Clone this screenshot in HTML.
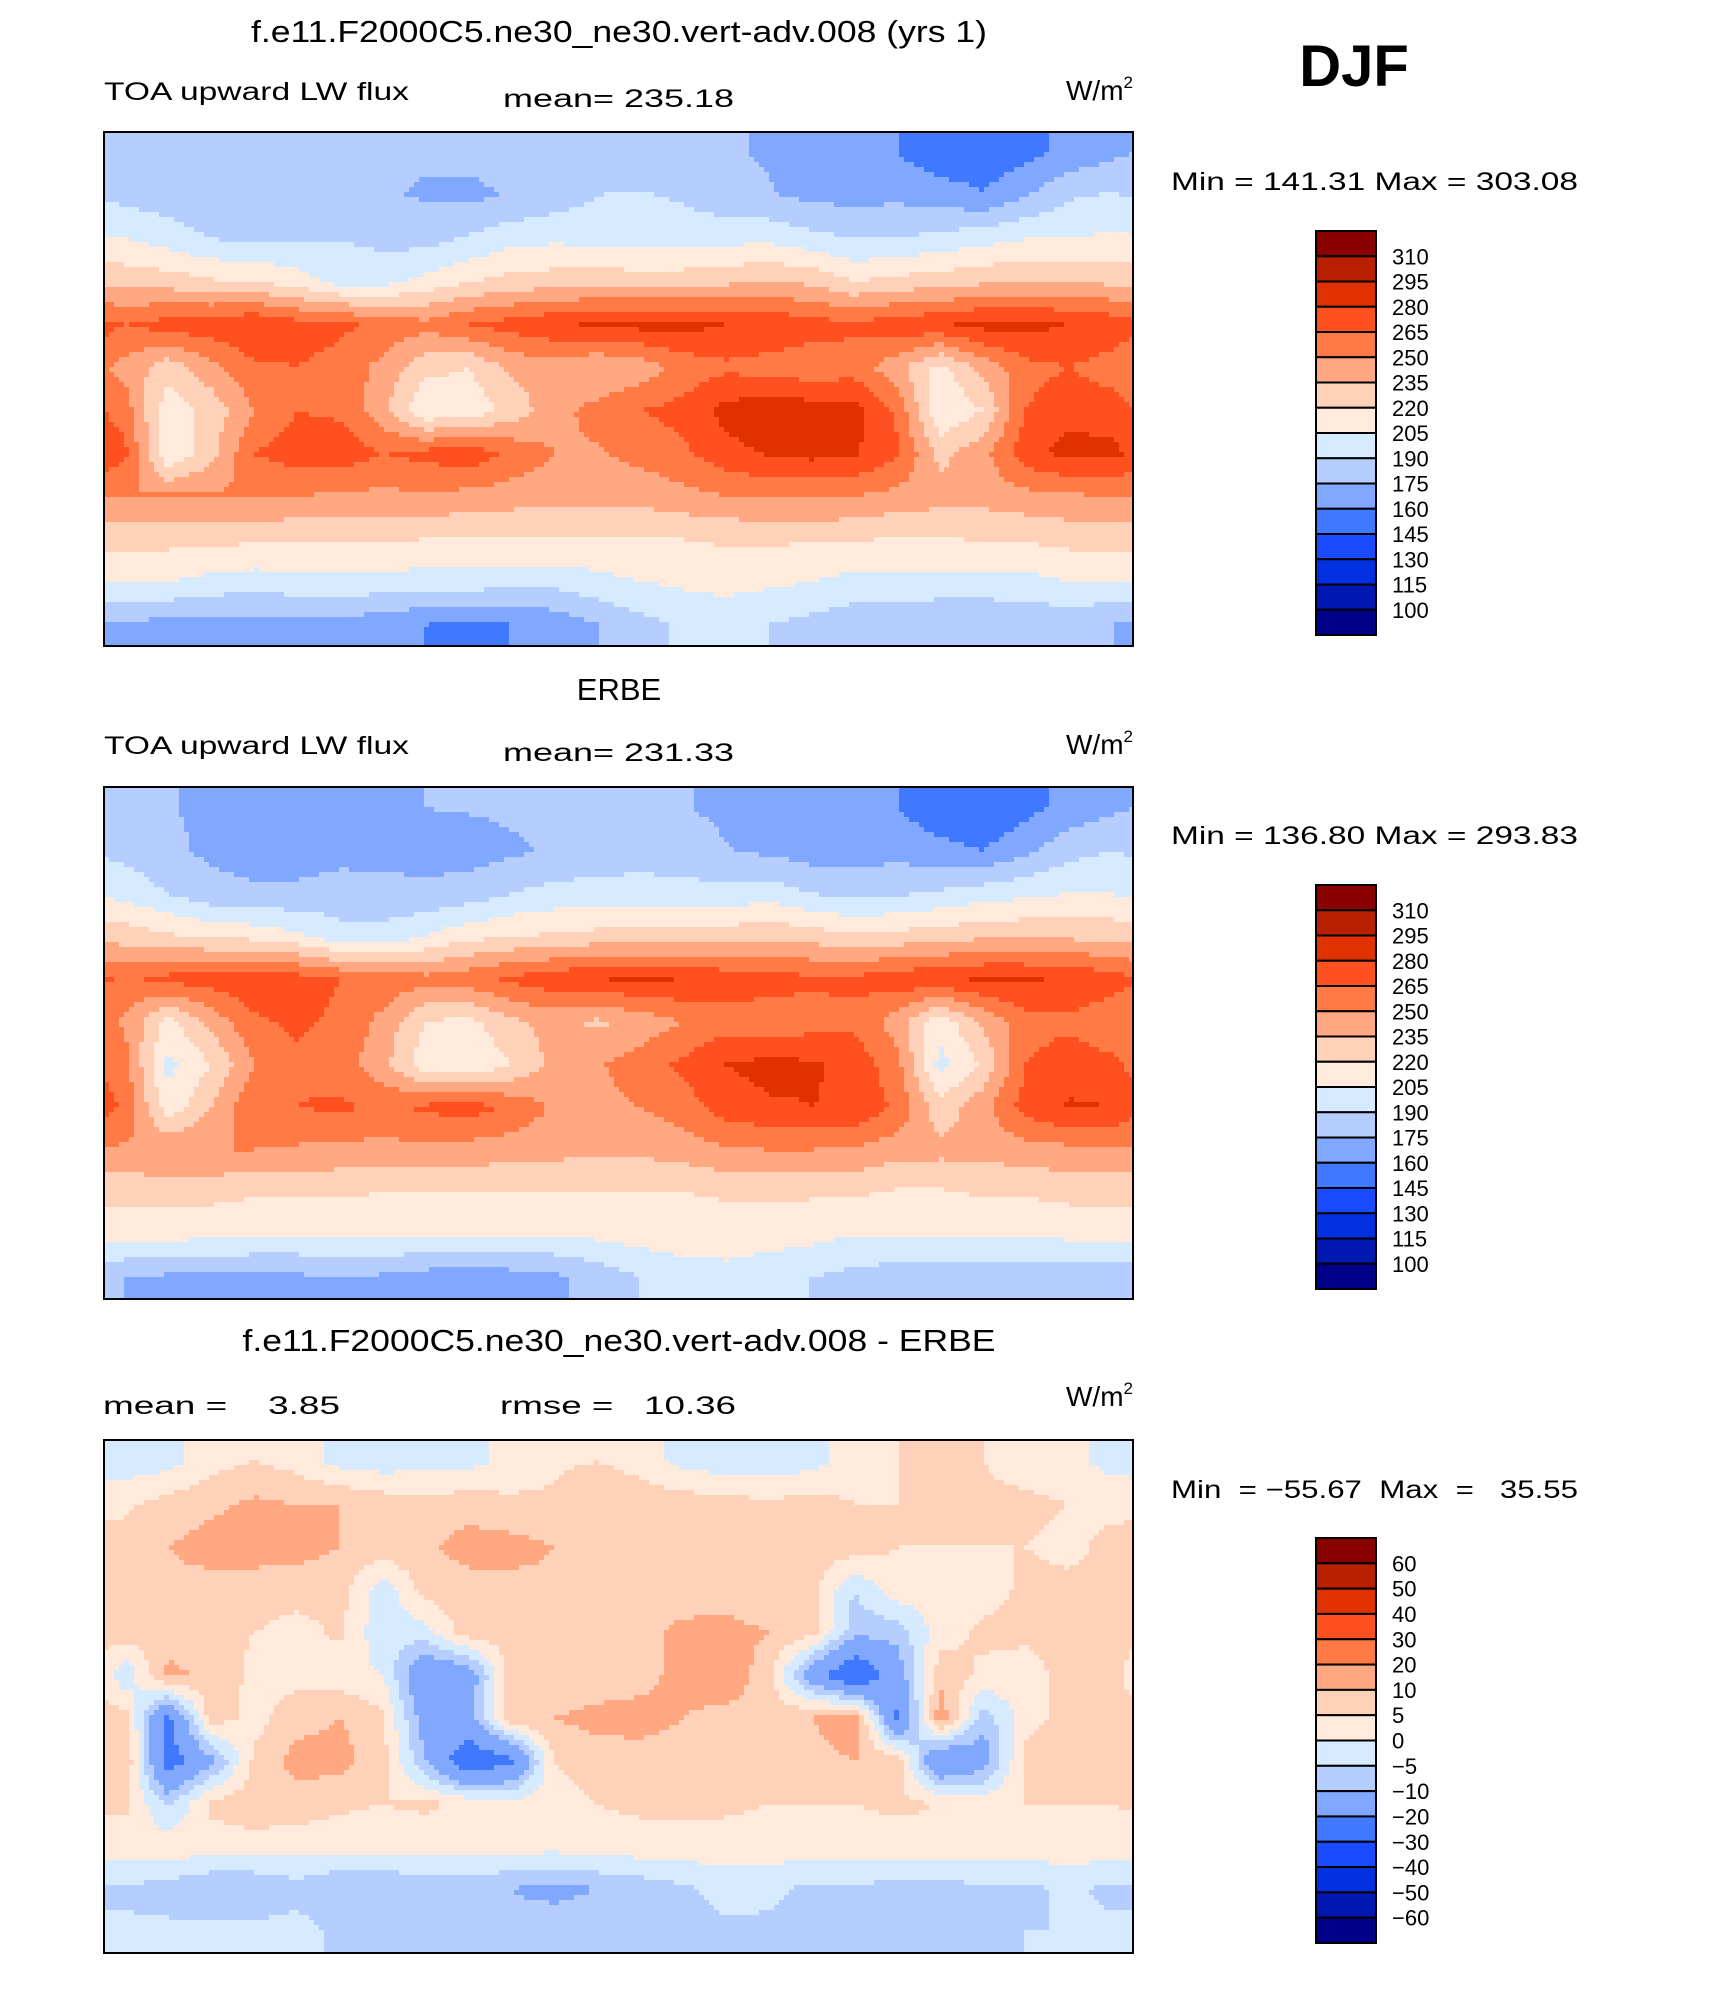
<!DOCTYPE html>
<html><head><meta charset="utf-8">
<style>
html,body{margin:0;padding:0;background:#fff;}
svg{display:block;}
text{font-family:"Liberation Sans",sans-serif;fill:#000;}
</style></head>
<body>
<svg id="fig" width="1710" height="1991" viewBox="0 0 1710 1991" xmlns="http://www.w3.org/2000/svg">
<rect width="1710" height="1991" fill="#fff"/>
<text x="1354" y="86" font-size="58" font-weight="bold" text-anchor="middle">DJF</text>

<text x="619" y="42" font-size="31" text-anchor="middle" textLength="736" lengthAdjust="spacingAndGlyphs">f.e11.F2000C5.ne30_ne30.vert-adv.008 (yrs 1)</text>
<text x="104" y="100" font-size="25" textLength="305" lengthAdjust="spacingAndGlyphs">TOA upward LW flux</text>
<text x="503" y="107" font-size="25" textLength="231" lengthAdjust="spacingAndGlyphs">mean= 235.18</text>
<text x="1133" y="100" font-size="28" text-anchor="end">W/m<tspan font-size="17" dy="-12">2</tspan></text>
<text x="1171" y="190" font-size="25" textLength="407" lengthAdjust="spacingAndGlyphs">Min  =  141.31  Max  =  303.08</text>

<text x="619" y="700" font-size="31" text-anchor="middle">ERBE</text>
<text x="104" y="754" font-size="25" textLength="305" lengthAdjust="spacingAndGlyphs">TOA upward LW flux</text>
<text x="503" y="761" font-size="25" textLength="231" lengthAdjust="spacingAndGlyphs">mean= 231.33</text>
<text x="1133" y="754" font-size="28" text-anchor="end">W/m<tspan font-size="17" dy="-12">2</tspan></text>
<text x="1171" y="844" font-size="25" textLength="407" lengthAdjust="spacingAndGlyphs">Min  =  136.80  Max  =  293.83</text>

<text x="619" y="1351" font-size="31" text-anchor="middle" textLength="753" lengthAdjust="spacingAndGlyphs">f.e11.F2000C5.ne30_ne30.vert-adv.008 - ERBE</text>
<text x="103" y="1414" font-size="25" textLength="237" lengthAdjust="spacingAndGlyphs" xml:space="preserve">mean =    3.85</text>
<text x="500" y="1414" font-size="25" textLength="236" lengthAdjust="spacingAndGlyphs" xml:space="preserve">rmse =   10.36</text>
<text x="1133" y="1406" font-size="28" text-anchor="end">W/m<tspan font-size="17" dy="-12">2</tspan></text>
<text x="1171" y="1498" font-size="25" textLength="407" lengthAdjust="spacingAndGlyphs" xml:space="preserve">Min  = −55.67  Max  =   35.55</text>
</svg>
<script>
// ---- data ----
const colors=["#8a0000","#b82000","#e03200","#ff5020","#ff7a45","#ffa882","#ffd1b8","#ffeadb","#d6ebff","#b5cdff","#80a8ff","#4078ff","#1a4cff","#0030e0","#0018b0","#000088"];
const levelsAbs=[310,295,280,265,250,235,220,205,190,175,160,145,130,115,100];
const levelsDiff=[60,50,40,30,20,10,5,0,-5,-10,-20,-30,-40,-50,-60];
const levelLabelsAbs=["310","295","280","265","250","235","220","205","190","175","160","145","130","115","100"];
const levelLabelsDiff=["60","50","40","30","20","10","5","0","−5","−10","−20","−30","−40","−50","−60"];
// grids: rows 82.5N..82.5S (15deg), cols lon 0..360 (15deg)
const modelGrid=[
[178,178,180,180,180,178,176,176,178,180,180,180,180,178,176,174,170,168,160,150,148,155,165,172],
[185,182,178,176,176,178,176,174,172,176,182,190,192,188,180,176,172,170,172,168,162,175,188,192],
[205,198,190,188,188,190,186,184,192,200,202,200,198,200,200,202,195,190,190,195,200,205,205,208],
[230,228,222,220,212,200,200,210,220,225,228,230,228,228,232,235,232,220,225,228,232,235,235,232],
[265,272,275,280,272,268,262,255,265,272,278,282,285,285,280,278,272,268,275,278,285,285,280,275],
[245,225,245,262,265,260,245,225,220,238,242,235,240,255,262,258,255,258,240,215,240,260,265,258],
[258,210,225,250,265,262,240,205,210,225,245,255,265,270,285,290,288,285,262,205,220,265,275,272],
[268,205,230,265,272,275,265,270,275,262,250,248,255,262,275,282,285,282,268,230,245,275,285,285],
[250,252,252,252,250,248,246,248,245,242,240,240,240,245,250,252,252,250,245,242,240,245,248,250],
[225,225,225,222,222,222,222,220,220,220,220,220,220,220,222,222,222,222,218,218,222,222,225,225],
[205,205,200,198,200,200,200,198,198,195,195,200,205,208,210,208,205,200,200,200,200,200,205,205],
[172,170,168,168,168,170,165,160,158,160,165,175,185,192,195,190,185,180,180,175,175,178,180,175]];
const obsGrid=[
[178,176,172,170,170,172,174,175,176,178,178,178,178,176,172,170,168,165,160,150,145,155,165,172],
[185,178,172,168,168,170,170,170,168,172,178,182,185,182,176,172,168,168,170,165,160,172,185,190],
[200,190,180,178,178,182,180,178,182,190,195,195,195,195,195,198,190,185,188,192,198,202,205,205],
[228,222,218,215,208,195,195,205,215,220,222,225,225,225,228,232,228,222,225,228,232,232,232,230],
[262,270,272,278,272,265,262,255,260,268,275,280,282,280,275,272,268,268,275,278,282,282,278,272],
[248,215,240,262,268,262,245,220,215,232,240,232,240,250,258,255,258,262,242,210,238,260,262,255],
[255,200,220,250,262,258,240,210,205,220,240,248,258,268,280,285,282,275,255,200,222,265,272,268],
[262,210,235,262,265,268,262,268,272,262,248,245,250,258,272,278,280,278,262,225,245,272,282,280],
[248,250,250,250,248,246,245,246,244,242,240,238,238,242,248,250,250,248,242,240,240,244,246,248],
[225,225,225,222,222,222,220,220,220,220,220,220,220,220,222,222,222,222,218,218,222,222,225,225],
[210,210,208,205,205,208,208,205,205,205,205,208,212,212,212,212,210,205,205,205,205,205,208,210],
[175,172,170,172,172,175,172,168,165,168,172,180,190,198,200,195,190,185,182,180,180,182,182,178]];
const diffGrid=[
[-3,-2,3,5,3,-2,-3,-2,-2,2,4,5,3,-2,-3,-3,-2,3,5,7,5,3,2,-2],
[4,7,9,11,10,10,8,7,8,6,6,10,8,8,7,6,7,5,5,6,6,6,5,4],
[7,10,12,12,12,10,8,9,12,12,10,7,5,7,8,7,7,8,5,5,5,5,4,6],
[6,9,8,8,7,7,-3,7,8,8,9,9,7,6,7,6,7,-5,3,3,3,6,6,6],
[8,6,6,5,3,6,-4,-2,8,7,6,6,7,12,12,10,7,-8,-8,3,6,6,6,6],
[-4,12,8,4,3,2,0,-18,-15,8,5,6,8,12,14,7,-15,-30,-14,8,4,3,7,8],
[7,-22,8,3,8,10,6,-14,-12,9,10,12,12,10,8,8,10,14,-22,14,-8,3,7,8],
[10,-25,-12,6,12,12,7,-10,-28,-22,5,7,8,8,7,8,8,10,8,-20,-14,7,7,9],
[6,-6,6,8,8,6,5,6,4,2,3,5,6,6,6,5,5,5,6,5,3,5,5,5],
[3,3,3,3,2,2,2,2,2,2,2,3,3,3,3,3,3,3,3,3,3,3,3,3],
[-6,-7,-10,-10,-7,-10,-10,-8,-8,-10,-12,-10,-8,-6,-3,-4,-6,-6,-7,-7,-6,-6,-4,-6],
[-4,-4,-3,-3,-3,-6,-8,-10,-8,-8,-6,-6,-6,-7,-6,-6,-6,-6,-5,-6,-6,-5,-5,-4]];

// ---- drawing ----
const NS="http://www.w3.org/2000/svg";
const svg=document.getElementById('fig');
function mk(tag,attrs,parent){const e=document.createElementNS(NS,tag);for(const k in attrs)e.setAttribute(k,attrs[k]);(parent||svg).appendChild(e);return e;}
function colorFor(v,levels){for(let i=0;i<levels.length;i++){if(v>=levels[i])return colors[i];}return colors[colors.length-1];}
function sample(grid,fx,fy){
  const R=grid.length,C=grid[0].length;
  let y=Math.min(Math.max(fy-0.5,0),R-1);let y0=Math.floor(y),y1=Math.min(y0+1,R-1),ty=y-y0;
  let x=fx-0.5;let x0=Math.floor(x),tx=x-x0;let xa=((x0%C)+C)%C,xb=(xa+1)%C;
  const a=grid[y0][xa]*(1-tx)+grid[y0][xb]*tx,b=grid[y1][xa]*(1-tx)+grid[y1][xb]*tx;
  return a*(1-ty)+b*ty;}
function drawMap(grid,levels,X,Y,W,H,name){
  const g=mk('g',{});
  
  
  const R=grid.length,C=grid[0].length,B=5;
  function flush(x0,x1,py,bh,col){
    const r=mk('rect',{x:X+x0,y:Y+py,width:x1-x0+0.6,height:bh+0.6,fill:col},g);
    
    
  }
  for(let py=0;py<H;py+=B){
    const bh=Math.min(B,H-py);
    let runStart=0,runCol=null;
    for(let px=0;px<W;px+=B){
      const v=sample(grid,(px+B/2)/W*C,(py+bh/2)/H*R);
      const col=colorFor(v,levels);
      if(col!==runCol){
        if(runCol!==null)flush(runStart,px,py,bh,runCol);
        runStart=px;runCol=col;
      }
    }
    flush(runStart,W,py,bh,runCol);
  }
  const f=mk('rect',{x:X,y:Y,width:W,height:H,fill:'none',stroke:'#000','stroke-width':2});
  
  
}
function drawBar(levels,labels,X,Y,W,H,name){
  const g=mk('g',{});
  
  
  const n=colors.length,h=H/n;
  colors.forEach((c,i)=>{
    const r=mk('rect',{x:X,y:Y+i*h,width:W,height:h,fill:c,stroke:'#000','stroke-width':2},g);
    
    
  });
  labels.forEach((l,i)=>{
    const t=mk('text',{x:X+W+16,y:Y+(i+1)*h+8,'font-size':22},g);
    t.textContent=l;
    
    
  });
}
drawMap(modelGrid,levelsAbs,104,132,1029,514,'model-map');
drawMap(obsGrid,levelsAbs,104,787,1029,512,'erbe-map');
drawMap(diffGrid,levelsDiff,104,1440,1029,513,'difference-map');
drawBar(levelsAbs,levelLabelsAbs,1316,231,60,404,'model-colorbar');
drawBar(levelsAbs,levelLabelsAbs,1316,885,60,404,'erbe-colorbar');
drawBar(levelsDiff,levelLabelsDiff,1316,1538,60,405,'difference-colorbar');
</script>
</body></html>
